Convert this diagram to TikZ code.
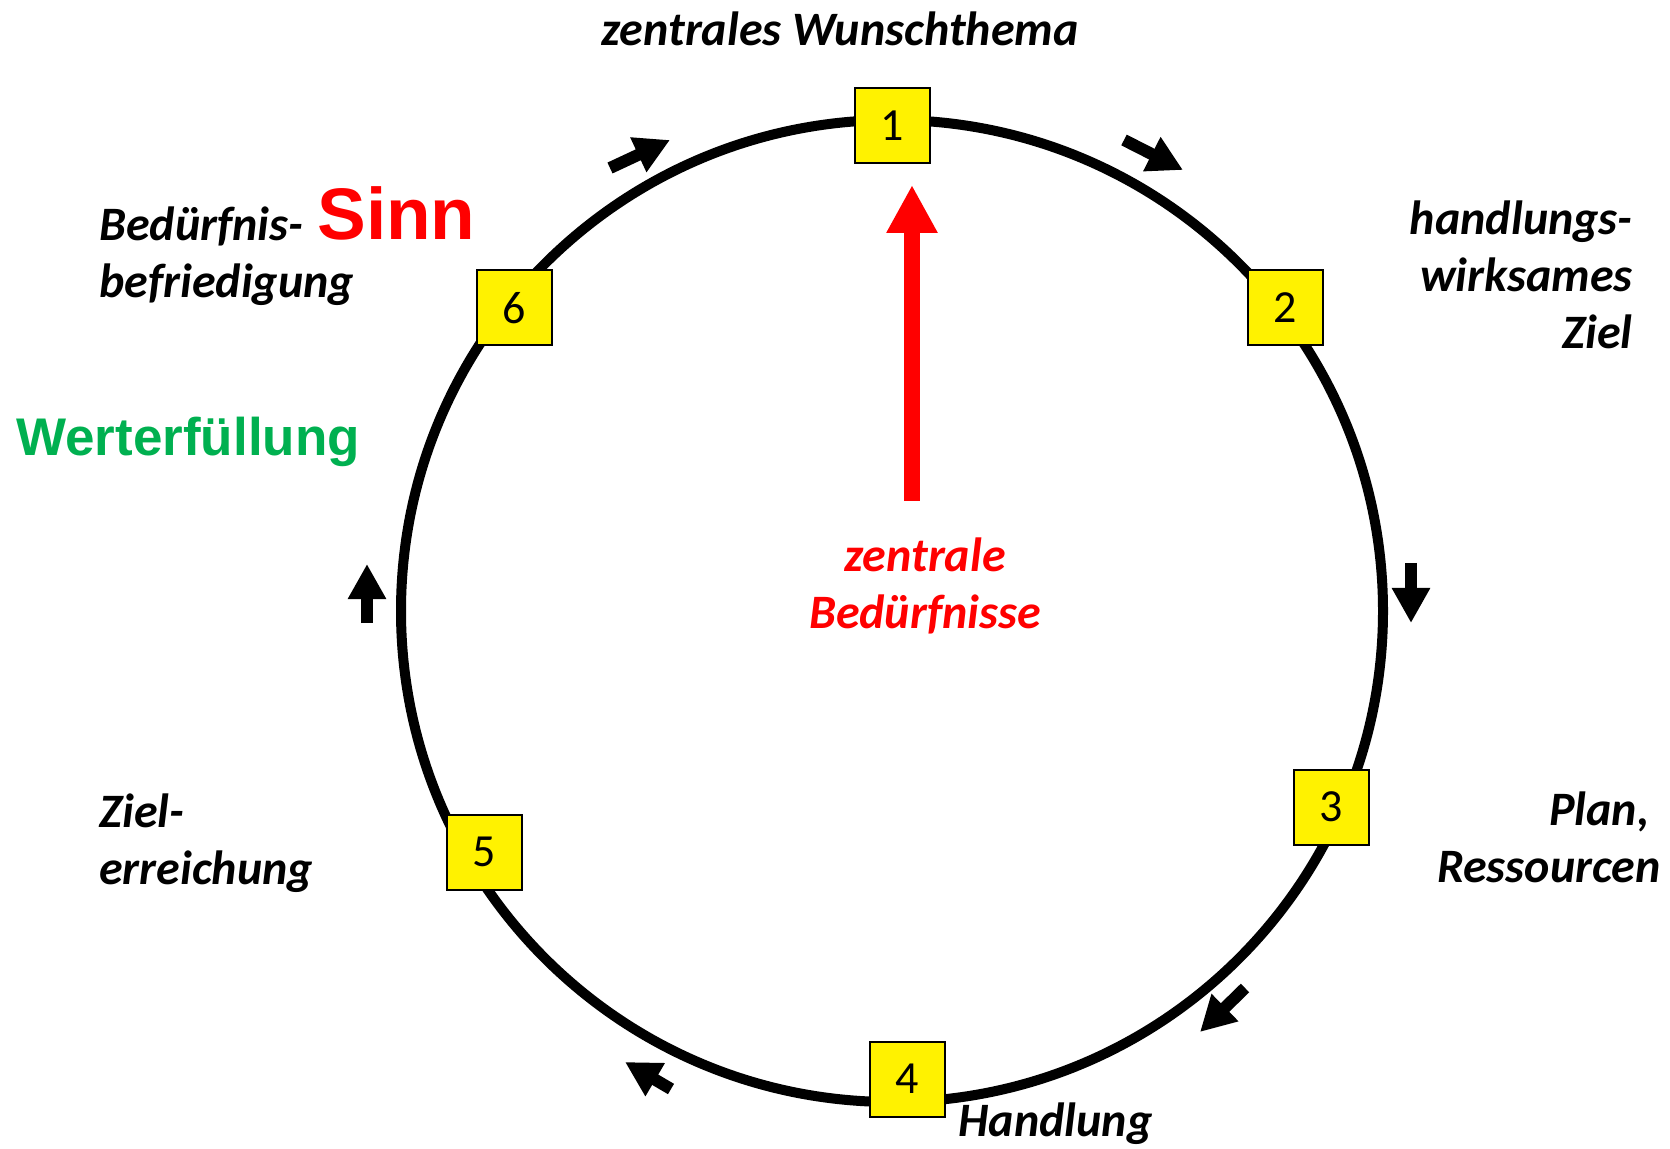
\documentclass[tikz,border=0pt]{standalone}
\usepackage{fontspec}
\setmainfont{Carlito}
\newfontfamily\headfont{Liberation Sans}
\usetikzlibrary{arrows.meta}
\definecolor{valgreen}{RGB}{0,176,80}

\tikzset{
  ring/.style={line width=5pt},
  stepbox/.style={draw=black, line width=1pt, fill=yellow, minimum size=37.5pt,
    inner sep=0pt, font=\fontsize{23}{28}\selectfont},
  lbl/.style={font=\fontsize{24}{28.5}\selectfont\bfseries\itshape, inner sep=0pt},
  flow/.style={line width=6pt, -{Triangle[width=18pt,length=17.5pt]}},
  need/.style={red, line width=8pt, -{Triangle[width=24pt,length=24pt]}},
}

\begin{document}
\begin{tikzpicture}[x=0.5pt, y=-0.5pt]
  \useasboundingbox (0,0) rectangle (1670,1149);

  % the cycle
  \coordinate (c) at (892,611);
  \draw[ring] (c) circle [radius=491];

  % numbered steps
  \node[stepbox] (s1) at (892.5,126) {1};
  \node[stepbox] (s2) at (1285.5,308) {2};
  \node[stepbox] (s3) at (1331,807) {3};
  \node[stepbox] (s4) at (907.5,1079) {4};
  \node[stepbox] (s5) at (484,852) {5};
  \node[stepbox] (s6) at (514,308) {6};

  % direction markers along the cycle
  \coordinate (a1t) at (610,168); \coordinate (a1h) at (670,140);
  \coordinate (a2t) at (1124,140); \coordinate (a2h) at (1183,170);
  \coordinate (a3t) at (1411,563); \coordinate (a3h) at (1411,623);
  \coordinate (a4t) at (1245,988); \coordinate (a4h) at (1200,1032);
  \coordinate (a5t) at (671,1089); \coordinate (a5h) at (625,1062);
  \coordinate (a6t) at (367,623); \coordinate (a6h) at (367,564);
  \foreach \i in {1,...,6} \draw[flow] (a\i t) -- (a\i h);

  % central needs
  \node[lbl, red, align=center] (needs) at (925,586) {zentrale\\Bedürfnisse};
  \coordinate (needtail) at (912,501);
  \draw[need] (needtail) -- (912,185);

  % labels
  \node[lbl] (l1) at (840,29) {zentrales Wunschthema};
  \node[lbl, align=right, anchor=east] (l2) at (1633,275) {handlungs-\\wirksames\\Ziel};
  \node[lbl, align=right, anchor=east] (l3) at (1661,837) {Plan,\kern5.5pt\\Ressourcen};
  \node[lbl, anchor=west] (l4) at (958,1124) {Handlung};
  \node[lbl, align=left, anchor=west] (l5) at (99,843) {Ziel-\\erreichung};
  \node[lbl, align=left, anchor=west] (l6) at (99,256) {Bedürfnis-\\befriedigung};
  \node[font=\fontsize{36.5}{40}\selectfont\headfont\bfseries, red, inner sep=0pt, anchor=west] (sinn) at (317,213) {Sinn};
  \node[font=\fontsize{26.5}{30}\selectfont\headfont\bfseries, valgreen, inner sep=0pt, anchor=west] (wert) at (16,442) {Werterfüllung};
\end{tikzpicture}
\end{document}
